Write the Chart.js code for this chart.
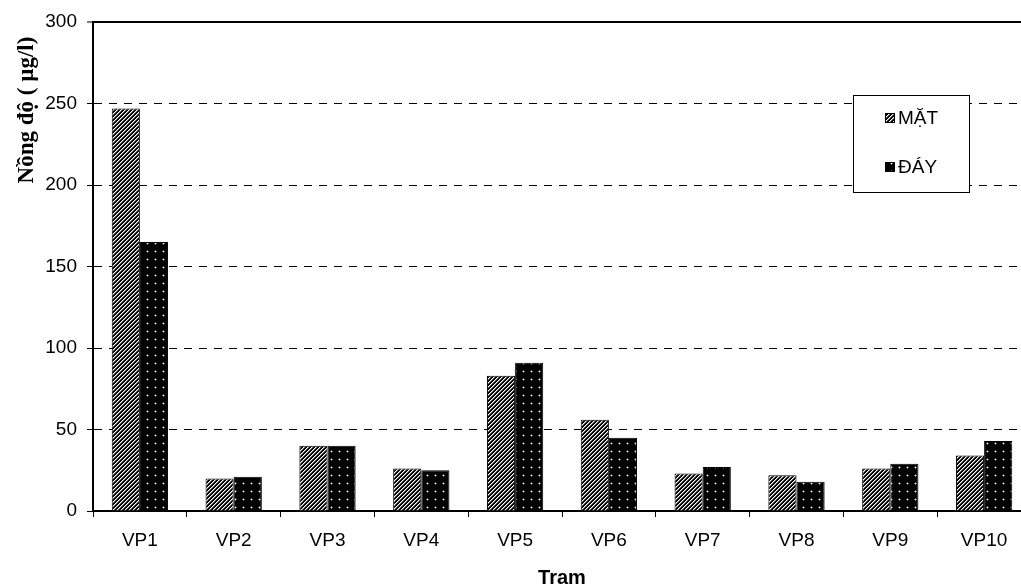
<!DOCTYPE html>
<html>
<head>
<meta charset="utf-8">
<script src="https://cdn.jsdelivr.net/npm/chart.js@4/dist/chart.umd.min.js"></script>
<style>
  html, body { margin: 0; padding: 0; background: #fff; overflow: hidden; }
  #wrap { width: 1031px; height: 588px; }
</style>
</head>
<body>
<div id="wrap"><canvas id="c" width="1031" height="588"></canvas></div>
<script>
// Sampling stations and measured concentrations (µg/l)
const stations = ['VP1', 'VP2', 'VP3', 'VP4', 'VP5', 'VP6', 'VP7', 'VP8', 'VP9', 'VP10'];
const surfaceValues = [247, 20, 40, 26, 83, 56, 23, 22, 26, 34];   // MẶT
const bottomValues  = [165, 21, 40, 25, 91, 45, 27, 18, 29, 43];   // ĐÁY
const seriesLabels = ['MẶT', 'ĐÁY'];
const yTicks = [0, 50, 100, 150, 200, 250, 300];
const yTitle = 'Nồng độ ( µg/l)';
const xTitle = 'Tram';

const canvas = document.getElementById('c');
const ctx = canvas.getContext('2d');

// Upward diagonal hatch fill
function hatchPattern() {
  const t = document.createElement('canvas');
  t.width = 4; t.height = 4;
  const g = t.getContext('2d');
  const img = g.createImageData(4, 4);
  const shades = [0, 0, 255, 120];
  for (let y = 0; y < 4; y++) {
    for (let x = 0; x < 4; x++) {
      const v = shades[(x + y) % 4];
      const i = (y * 4 + x) * 4;
      img.data[i] = img.data[i + 1] = img.data[i + 2] = v;
      img.data[i + 3] = 255;
    }
  }
  g.putImageData(img, 0, 0);
  return ctx.createPattern(t, 'repeat');
}

// Black fill with small light dots
function dotPattern() {
  const t = document.createElement('canvas');
  t.width = 8; t.height = 8;
  const g = t.getContext('2d');
  g.fillStyle = '#000';
  g.fillRect(0, 0, 8, 8);
  g.fillStyle = '#666';
  g.fillRect(2, 3, 3, 1);
  g.fillRect(3, 2, 1, 3);
  g.fillStyle = '#f4f4f4';
  g.fillRect(3, 3, 1, 1);
  return ctx.createPattern(t, 'repeat');
}

const fills = [hatchPattern(), dotPattern()];

// Axis title on the left and the boxed legend
const decorations = {
  id: 'decorations',
  afterDraw(chart) {
    const c = chart.ctx;
    c.save();
    c.fillStyle = '#000';
    c.font = 'bold 23px "Liberation Serif"';
    c.translate(33, 110);
    c.rotate(-Math.PI / 2);
    c.textAlign = 'center';
    c.textBaseline = 'alphabetic';
    c.fillText(yTitle, 0, 0);
    c.restore();

    const bx = 853, by = 95, bw = 116, bh = 97;
    c.save();
    c.fillStyle = '#fff';
    c.fillRect(bx, by, bw, bh);
    c.strokeStyle = '#000';
    c.lineWidth = 1;
    c.strokeRect(bx + 0.5, by + 0.5, bw, bh);
    const rows = [118, 167];
    chart.data.datasets.forEach((ds, i) => {
      const y = rows[i];
      c.fillStyle = ds.backgroundColor;
      c.fillRect(885, y - 5, 10, 10);
      c.strokeStyle = '#000';
      c.lineWidth = 1;
      c.strokeRect(885.5, y - 4.5, 9, 9);
      c.fillStyle = '#000';
      c.font = '19px "Liberation Sans"';
      c.textAlign = 'left';
      c.textBaseline = 'middle';
      c.fillText(ds.label, 898, y + 1);
    });
    c.restore();
  }
};

new Chart(ctx, {
  type: 'bar',
  data: {
    labels: stations,
    datasets: [
      { label: seriesLabels[0], data: surfaceValues, backgroundColor: fills[0],
        borderColor: '#000', borderWidth: 1, categoryPercentage: 0.6, barPercentage: 1 },
      { label: seriesLabels[1], data: bottomValues, backgroundColor: fills[1],
        borderColor: '#000', borderWidth: 1, categoryPercentage: 0.6, barPercentage: 1 }
    ]
  },
  options: {
    responsive: false,
    animation: false,
    devicePixelRatio: 1,
    layout: { padding: { top: 22, left: 0, right: 0, bottom: 0 } },
    plugins: { legend: { display: false }, tooltip: { enabled: false } },
    scales: {
      x: {
        afterFit: s => { s.height = 77; },
        grid: { offset: true, drawOnChartArea: false, tickLength: 6, tickColor: '#000', color: '#000' },
        border: { display: true, color: '#000', width: 2 },
        ticks: { color: '#000', font: { family: 'Liberation Sans', size: 19 }, padding: 12,
                 maxRotation: 0, autoSkip: false },
        title: { display: true, text: xTitle, color: '#000',
                 font: { family: 'Liberation Sans', size: 20, weight: 'bold', lineHeight: 1 },
                 padding: { top: 0, bottom: 0 } }
      },
      y: {
        min: 0, max: 300,
        afterBuildTicks: s => { s.ticks = yTicks.map(v => ({ value: v })); },
        afterFit: s => { s.width = 93; },
        grid: { color: '#000', lineWidth: c => (c.tick && c.tick.value === 300) ? 2 : 1,
                tickLength: 6, tickColor: '#000', tickWidth: 1 },
        border: { display: true, color: '#000', width: 2,
                  dash: c => (c.tick && (c.tick.value === 300 || c.tick.value === 0)) ? [] : [8, 7] },
        ticks: { color: '#000', font: { family: 'Liberation Sans', size: 19 }, padding: 10 }
      }
    }
  },
  plugins: [decorations]
});
</script>
</body>
</html>
